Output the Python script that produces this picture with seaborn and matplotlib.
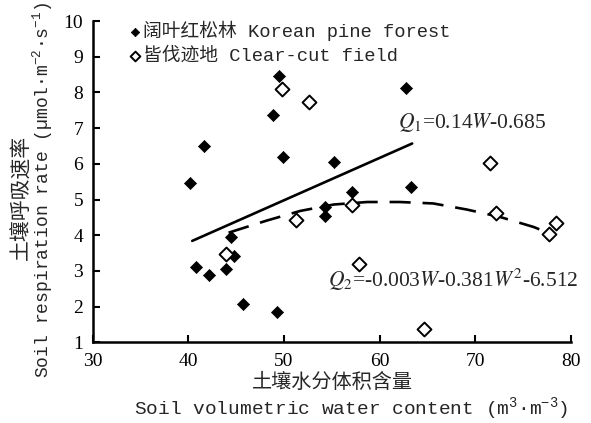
import numpy as np
import pandas as pd
import matplotlib
matplotlib.use("Agg")
import matplotlib.pyplot as plt
import seaborn as sns

# Korean pine forest (filled diamonds)
pine_w = [40.2, 41.6, 40.8, 42.2, 43.9, 44.5, 44.8, 45.7, 48.8, 49.3,
          49.5, 49.9, 54.3, 54.3, 55.2, 57.1, 62.8, 63.3]
pine_r = [5.46, 6.50, 3.12, 2.87, 3.05, 3.96, 3.42, 2.08, 7.38, 1.84,
          8.46, 6.19, 4.80, 4.53, 6.04, 5.22, 8.13, 5.34]

# Clear-cut field (open diamonds)
cut_w = [43.9, 49.8, 51.2, 52.6, 57.1, 57.8, 64.6, 71.5, 72.2, 77.7, 78.4]
cut_r = [3.47, 8.09, 4.43, 7.72, 4.84, 3.18, 1.37, 6.01, 4.63, 4.03, 4.34]

# fitted lines
fit1_w = [40.4, 63.4]
fit1_r = [3.84, 6.57]
fit2_w = [44.2, 48.2, 51.7, 55.2, 58.7, 62.1, 65.6, 69.1, 72.6, 76.1, 77.3]
fit2_r = [4.07, 4.41, 4.68, 4.86, 4.93, 4.93, 4.89, 4.72, 4.51, 4.23, 4.10]

x_ticks = [30, 40, 50, 60, 70, 80]
y_ticks = [1, 2, 3, 4, 5, 6, 7, 8, 9, 10]

sns.set_style("ticks")
plt.rcParams["font.family"] = ["Liberation Mono", "Noto Sans CJK SC"]
plt.rcParams["mathtext.fontset"] = "custom"
plt.rcParams["mathtext.rm"] = "Liberation Mono"
plt.rcParams["mathtext.it"] = "Liberation Mono:italic"

fig = plt.figure(figsize=(5.91, 4.23), dpi=100)
ax = fig.add_axes([0.157, 0.191, 0.809, 0.759])

pine = pd.DataFrame({"w": pine_w, "r": pine_r})
cut = pd.DataFrame({"w": cut_w, "r": cut_r})

sns.lineplot(x=fit1_w, y=fit1_r, color="black", lw=1.9, sort=False, ax=ax)
sns.lineplot(x=fit2_w, y=fit2_r, color="black", lw=1.9, sort=False,
             linestyle=(0, (8, 4.5)), ax=ax)

sns.scatterplot(data=pine, x="w", y="r", marker="D", s=38, color="black",
                edgecolor="black", linewidth=0.5, zorder=3, ax=ax,
                label="阔叶红松林 Korean pine forest")
sns.scatterplot(data=cut, x="w", y="r", marker="D", s=50, facecolor="white",
                edgecolor="black", linewidth=1.4, zorder=3, ax=ax,
                label="皆伐迹地 Clear-cut field")

ax.set_xlim(30, 80)
ax.set_ylim(1, 10)
ax.set_xticks(x_ticks)
ax.set_yticks(y_ticks)
ax.set_xticklabels(x_ticks, family="Liberation Serif", fontsize=14)
ax.set_yticklabels(y_ticks, family="Liberation Serif", fontsize=14)
ax.tick_params(direction="in", length=5, width=1.5, colors="black")
ax.tick_params(axis="x", pad=8)
ax.tick_params(axis="y", pad=7)
for side in ["top", "right"]:
    ax.spines[side].set_visible(False)
for side in ["left", "bottom"]:
    ax.spines[side].set_linewidth(1.8)
    ax.spines[side].set_color("black")
ax.set_xlabel("")
ax.set_ylabel("")

leg = ax.legend(loc="upper left", bbox_to_anchor=(0.052, 1.03), frameon=False,
                fontsize=13.5, handletextpad=0.05, handlelength=0.8,
                borderpad=0, labelspacing=0.35, markerscale=0.7)

ax.text(61.9, 7.17, r"$\mathit{Q}_1$=0.14$\mathit{W}$-0.685", fontsize=15.5,
        family="Liberation Serif", math_fontfamily="stix", va="center")
ax.text(54.6, 2.74, r"$\mathit{Q}_2$=-0.003$\mathit{W}$-0.381$\mathit{W}^2$-6.512",
        fontsize=15.5, family="Liberation Serif", math_fontfamily="stix",
        va="center", clip_on=False)

fig.text(0.036, 0.534, "土壤呼吸速率", rotation=90, ha="center", va="center",
         fontsize=15)
fig.text(0.072, 0.551, "Soil respiration rate (µmol·m$^{-2}$·s$^{-1}$)",
         rotation=90, ha="center", va="center", fontsize=13)
fig.text(0.562, 0.095, "土壤水分体积含量", ha="center", va="center", fontsize=14.5)
fig.text(0.594, 0.033, "Soil volumetric water content (m$^3$·m$^{-3}$)",
         ha="center", va="center", fontsize=14)

fig.savefig("out.png", dpi=100)
